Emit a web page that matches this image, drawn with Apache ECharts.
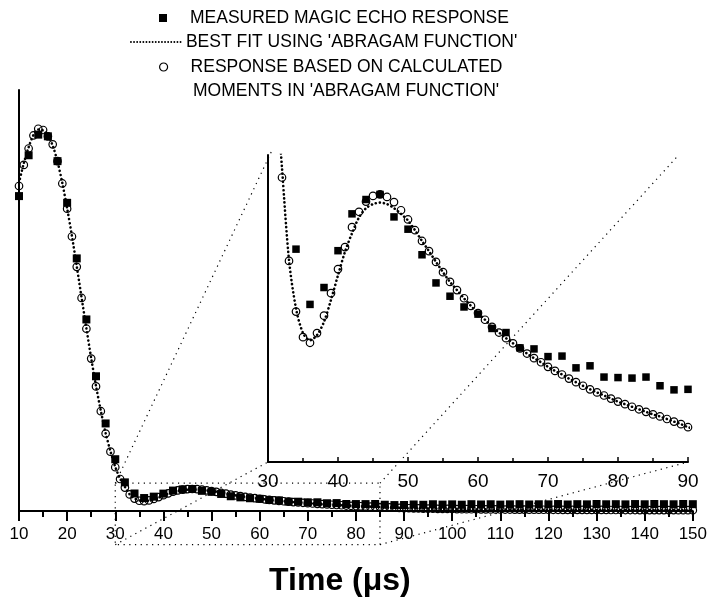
<!DOCTYPE html>
<html><head><meta charset="utf-8">
<script src="https://cdn.jsdelivr.net/npm/echarts@6/dist/echarts.min.js"></script>
<style>html,body{margin:0;padding:0;background:#fff}#c{width:710px;height:602px}</style>
</head><body><div id="c"></div>
<script>
// ---- data (time in µs, response in arbitrary units) ----
const circleX = [10,11,12,13,14,15,16,17,18,19,20,21,22,23,24,25,26,27,28,29,30,31,32,33,34,35,36,37,38,39,40,41,42,43,44,45,46,47,48,49,50,51,52,53,54,55,56,57,58,59,60,61,62,63,64,65,66,67,68,69,70,71,72,73,74,75,76,77,78,79,80,81,82,83,84,85,86,87,88,89,90,91,92,93,94,95,96,97,98,99,100,101,102,103,104,105,106,107,108,109,110,111,112,113,114,115,116,117,118,119,120,121,122,123,124,125,126,127,128,129,130,131,132,133,134,135,136,137,138,139,140,141,142,143,144,145,146,147,148,149,150];
const circleY = [77.2,82.2,86.1,89.2,90.8,90.5,89.0,87.1,83.1,77.8,
71.8,65.2,58.0,50.6,43.3,36.2,29.6,23.7,18.4,14.1,
10.4,7.6,5.56,3.93,2.94,2.44,2.33,2.52,2.86,3.30,
3.77,4.20,4.59,4.89,5.09,5.20,5.23,5.18,5.08,4.92,
4.74,4.53,4.32,4.12,3.91,3.71,3.52,3.36,3.20,3.05,
2.91,2.78,2.64,2.53,2.42,2.32,2.22,2.12,2.03,1.95,
1.86,1.78,1.71,1.63,1.56,1.49,1.42,1.36,1.30,1.24,
1.18,1.13,1.08,1.03,0.98,0.93,0.89,0.84,0.79,0.74,
0.68,0.65,0.62,0.60,0.58,0.56,0.54,0.52,0.50,0.49,
0.47,0.46,0.44,0.43,0.42,0.41,0.40,0.39,0.38,0.37,
0.36,0.35,0.35,0.34,0.33,0.33,0.32,0.31,0.31,0.30,
0.30,0.29,0.29,0.28,0.28,0.27,0.27,0.27,0.26,0.26,
0.25,0.25,0.25,0.24,0.24,0.24,0.23,0.23,0.23,0.22,
0.22,0.22,0.22,0.21,0.21,0.21,0.21,0.20,0.20,0.20,
0.20];
const fitY = [78.0,82.6,86.4,89.3,90.6,90.4,89.2,86.8,83.0,77.9,
71.9,65.3,58.1,50.7,43.4,36.3,29.7,23.8,18.5,14.2,
10.5,7.7,5.75,3.95,3.00,2.52,2.38,2.48,2.74,3.17,
3.65,4.11,4.47,4.78,4.96,5.04,5.07,5.04,4.96,4.85,
4.72,4.53,4.32,4.12,3.91,3.71,3.52,3.36,3.20,3.05,
2.91,2.78,2.64,2.53,2.42,2.32,2.22,2.12,2.03,1.95,
1.86,1.78,1.71,1.63,1.56,1.49,1.42,1.36,1.30,1.24,
1.18,1.13,1.08,1.03,0.98,0.93,0.89,0.84,0.79,0.74,
0.68,0.65,0.62,0.60,0.58,0.56,0.54,0.52,0.50,0.49,
0.47,0.46,0.44,0.43,0.42,0.41,0.40,0.39,0.38,0.37,
0.36,0.35,0.35,0.34,0.33,0.33,0.32,0.31,0.31,0.30,
0.30,0.29,0.29,0.28,0.28,0.27,0.27,0.27,0.26,0.26,
0.25,0.25,0.25,0.24,0.24,0.24,0.23,0.23,0.23,0.22,
0.22,0.22,0.22,0.21,0.21,0.21,0.21,0.20,0.20,0.20,
0.20];
const squareX = [10,12,14,16,18,20,22,24,26,28,30,32,34,36,38,40,42,44,46,48,50,52,54,56,58,60,62,64,66,68,70,72,74,76,78,80,82,84,86,88,90,92,94,96,98,100,102,104,106,108,110,112,114,116,118,120,122,124,126,128,130,132,134,136,138,140,142,144,146,148,150];
const squareY = [74.8,84.5,89.4,89.0,83.1,
73.2,60.0,45.5,32.0,20.8,
12.3,6.8,4.16,3.08,3.41,
4.13,4.85,5.13,5.23,4.79,
4.55,4.05,3.50,3.24,3.03,
2.89,2.61,2.53,2.23,2.21,
2.06,2.07,1.84,1.88,1.66,
1.65,1.64,1.66,1.49,1.41,
1.42,1.55,1.48,1.60,1.52,
1.58,1.50,1.62,1.55,1.60,
1.52,1.58,1.62,1.55,1.60,
1.58,1.65,1.55,1.62,1.58,
1.66,1.60,1.62,1.58,1.65,
1.60,1.66,1.62,1.60,1.66,
1.62];
const mainXTicks = [10,150,10];   // min, max, interval
const insetXTicks = [30,90,10];
const mainYRange = [0,100];
const insetYRange = [0,6];
// zoom box drawn on the main plot (data units) and where its corners land in the inset
const zoomBoxX = [30,85];
const zoomBoxY = [-8,6.6];
const insetTargets = [[30.6,6.1],[88.4,5.96],[30,0],[90,0]];

const NAME_SQ = 'MEASURED MAGIC ECHO RESPONSE';
const NAME_FIT = "BEST FIT USING 'ABRAGAM FUNCTION'";
const NAME_CI_1 = 'RESPONSE BASED ON CALCULATED';
const NAME_CI_2 = "MOMENTS IN 'ABRAGAM FUNCTION'";
const NAME_CI = NAME_CI_1 + ' ' + NAME_CI_2;

const zip = (xs, ys) => xs.map((x, i) => [x, ys[i]]);
const circles = zip(circleX, circleY);
const fit = zip(circleX, fitY);
const squares = zip(squareX, squareY);

const FONT = "'Liberation Sans', Arial, sans-serif";
const LEG_FONT = 17.5;
const fitLine = {type: [0.1, 4], width: 2.6, cap: 'round', color: '#000'};
const circStyle = {color: 'rgba(0,0,0,0)', borderColor: '#000', borderWidth: 1.2, opacity: 1};
const sqStyle = {color: '#000', opacity: 1};
const legText = {fontSize: LEG_FONT, fontFamily: FONT, color: '#000'};

function xAx(grid, t, opts) {
  return Object.assign({
    gridIndex: grid, type: 'value', min: t[0], max: t[1], interval: t[2],
    axisLine: {onZero: false, lineStyle: {color: '#000', width: 2}},
    splitLine: {show: false}, minorSplitLine: {show: false}
  }, opts);
}
function yAx(grid, r) {
  return {gridIndex: grid, type: 'value', min: r[0], max: r[1],
    axisLine: {show: true, onZero: false, lineStyle: {color: '#000', width: 2}},
    axisTick: {show: false}, axisLabel: {show: false}, splitLine: {show: false}};
}

const chart = echarts.init(document.getElementById('c'), null, {renderer: 'canvas'});
const option = {
  backgroundColor: '#fff',
  animation: false,
  color: ['#000'],
  grid: [
    {left: 19, right: 17, top: 90, bottom: 87},
    {left: 268, right: 22, top: 155, bottom: 140}
  ],
  xAxis: [
    xAx(0, mainXTicks, {
      axisTick: {length: 10, lineStyle: {color: '#000', width: 2}},
      minorTick: {show: true, splitNumber: 2, length: 6, lineStyle: {color: '#000', width: 2}},
      axisLabel: {color: '#000', fontSize: 17, fontFamily: FONT, margin: 15},
      name: 'Time (μs)', nameLocation: 'middle', nameGap: 54,
      nameTextStyle: {color: '#000', fontSize: 32, fontWeight: 'bold', fontFamily: FONT, padding: [0, 32, 0, 0]}
    }),
    xAx(1, insetXTicks, {
      axisTick: {inside: true, length: 5, lineStyle: {color: '#000', width: 1.5}},
      minorTick: {show: true, splitNumber: 2, length: 4, lineStyle: {color: '#000', width: 1.5}},
      axisLabel: {color: '#000', fontSize: 19, fontFamily: FONT, margin: 10}
    })
  ],
  yAxis: [yAx(0, mainYRange), yAx(1, insetYRange)],
  legend: [
    {left: 154, top: 4, selectedMode: false, itemWidth: 8, itemHeight: 8,
     data: [{name: NAME_SQ, icon: 'rect', itemStyle: sqStyle}],
     textStyle: Object.assign({padding: [0, 0, 0, 18]}, legText)},
    {left: 125, top: 28, selectedMode: false, itemWidth: 50, itemHeight: 10,
     data: [{name: NAME_FIT, itemStyle: {opacity: 0}, lineStyle: {type: [0.1, 3], width: 1.8, cap: 'round', color: '#000'}}],
     textStyle: legText},
    {left: 154, top: 53, selectedMode: false, itemWidth: 8, itemHeight: 8,
     data: [{name: NAME_CI, icon: 'circle', itemStyle: circStyle}],
     formatter: () => NAME_CI_1,
     textStyle: Object.assign({padding: [0, 0, 0, 18]}, legText)}
  ],
  series: [
    {name: NAME_CI, type: 'scatter', xAxisIndex: 0, yAxisIndex: 0, data: circles, symbol: 'circle', symbolSize: 7.5, itemStyle: circStyle, z: 2},
    {name: NAME_FIT, type: 'line', xAxisIndex: 0, yAxisIndex: 0, data: fit, symbol: 'none', smooth: 0.3, lineStyle: fitLine, z: 3},
    {name: NAME_SQ, type: 'scatter', xAxisIndex: 0, yAxisIndex: 0, data: squares, symbol: 'rect', symbolSize: 8, itemStyle: sqStyle, z: 4},
    {name: NAME_CI, type: 'scatter', xAxisIndex: 1, yAxisIndex: 1, data: circles, symbol: 'circle', symbolSize: 7.5, itemStyle: circStyle, z: 2},
    {name: NAME_FIT, type: 'line', xAxisIndex: 1, yAxisIndex: 1, data: fit, symbol: 'none', smooth: 0.3, lineStyle: fitLine, z: 3},
    {name: NAME_SQ, type: 'scatter', xAxisIndex: 1, yAxisIndex: 1, data: squares, symbol: 'rect', symbolSize: 7.5, itemStyle: sqStyle, z: 4}
  ]
};
chart.setOption(option);

// connector annotation: dotted zoom box on main plot and lines to the inset corners
const px = (g, pt) => chart.convertToPixel({gridIndex: g}, pt);
const boxCorners = [[zoomBoxX[0], zoomBoxY[1]], [zoomBoxX[1], zoomBoxY[1]], [zoomBoxX[0], zoomBoxY[0]], [zoomBoxX[1], zoomBoxY[0]]];
const dot = {stroke: '#000', lineWidth: 1.2, lineDash: [1.2, 4.5], fill: null};
const bc = boxCorners.map(c => px(0, c));
const els = [{type: 'polyline', shape: {points: [bc[0], bc[1], bc[3], bc[2], bc[0]]}, style: dot, z: 1, silent: true}];
boxCorners.forEach((c, i) => {
  const t = px(1, insetTargets[i]);
  els.push({type: 'line', shape: {x1: bc[i][0], y1: bc[i][1], x2: t[0], y2: t[1]}, style: dot, z: 1, silent: true});
});
// second line of the third legend entry
els.push({type: 'text', left: 193, top: 82, silent: true,
  style: {text: NAME_CI_2, font: LEG_FONT + 'px ' + FONT, fill: '#000'}});
chart.setOption({graphic: els});
</script></body></html>
